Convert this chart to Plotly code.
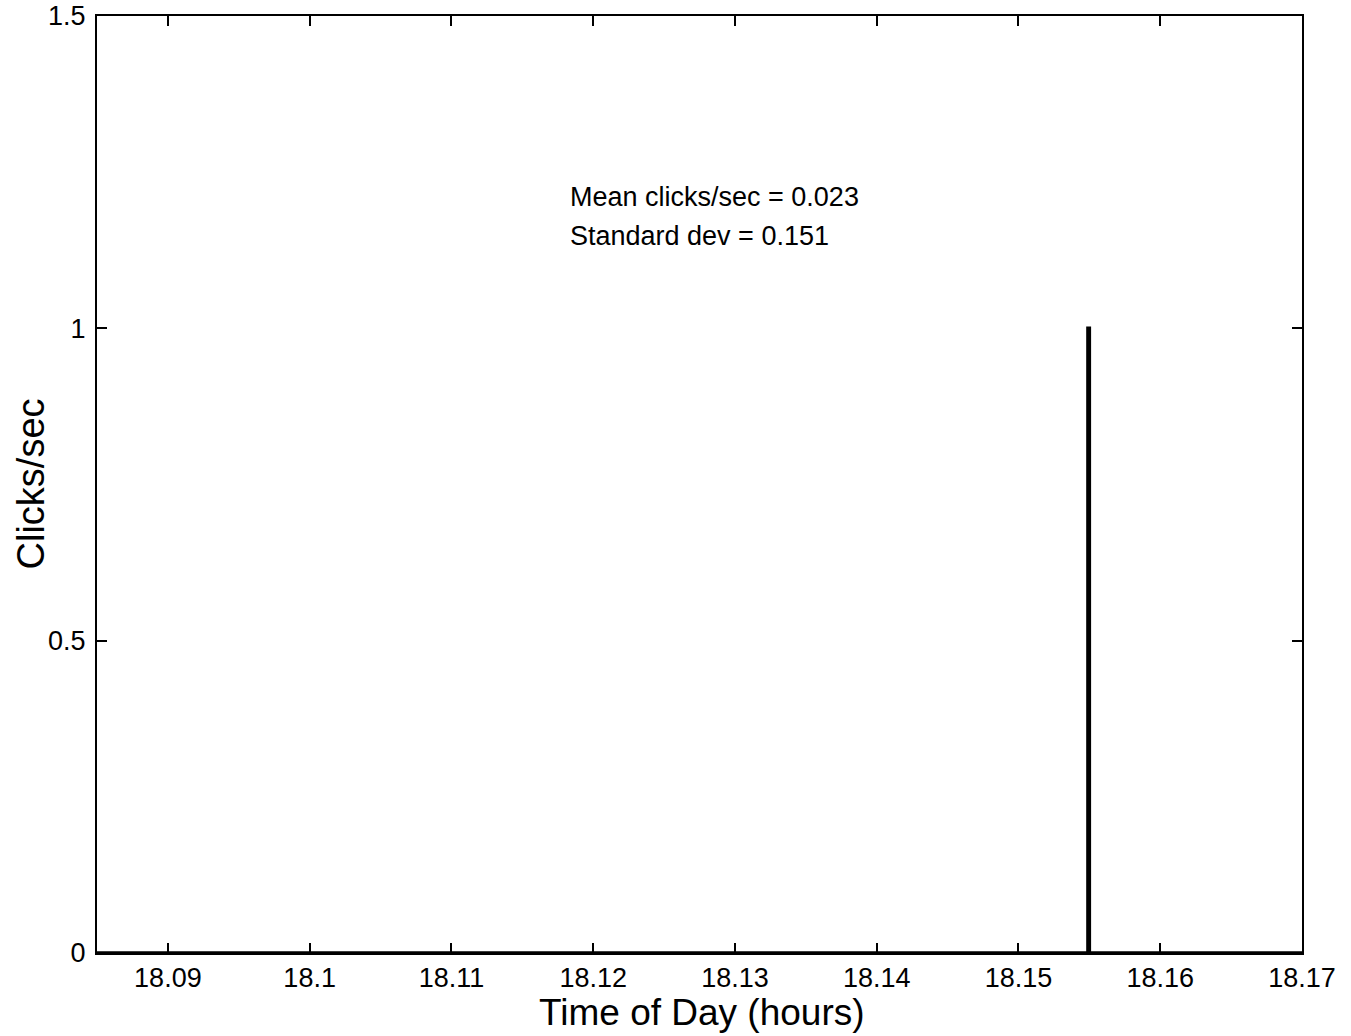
import plotly.graph_objects as go

# Data
time_hours = [18.0850, 18.1549, 18.1549, 18.1550, 18.1550, 18.1700]
clicks_per_sec = [0, 0, 1, 1, 0, 0]

x_tick_vals = [18.09, 18.10, 18.11, 18.12, 18.13, 18.14, 18.15, 18.16, 18.17]
x_tick_text = ["18.09", "18.1", "18.11", "18.12", "18.13", "18.14", "18.15", "18.16", "18.17"]
y_tick_vals = [0, 0.5, 1, 1.5]
y_tick_text = ["0", "0.5", "1", "1.5"]

stats_lines = ["Mean clicks/sec = 0.023", "Standard dev = 0.151"]
x_title = "Time of Day (hours)"
y_title = "Clicks/sec"

font_family = "Liberation Sans, Arial, Helvetica, sans-serif"

fig = go.Figure()
fig.add_trace(go.Scatter(
    x=time_hours, y=clicks_per_sec, mode="lines",
    line=dict(color="black", width=3.5), showlegend=False, hoverinfo="skip"))

fig.add_annotation(x=18.1182, y=1.21, xref="x", yref="y", text=stats_lines[0],
                   showarrow=False, xanchor="left", yanchor="middle",
                   font=dict(family=font_family, size=27, color="black"))
fig.add_annotation(x=18.1182, y=1.148, xref="x", yref="y", text=stats_lines[1],
                   showarrow=False, xanchor="left", yanchor="middle",
                   font=dict(family=font_family, size=27, color="black"))

# Axis titles placed as paper annotations for precise positioning
fig.add_annotation(x=0.502, y=-0.064, xref="paper", yref="paper", text=x_title,
                   showarrow=False, xanchor="center", yanchor="middle",
                   font=dict(family=font_family, size=37, color="black"))
fig.add_annotation(x=-0.0556, y=0.5, xref="paper", yref="paper", text=y_title,
                   showarrow=False, xanchor="center", yanchor="middle", textangle=-90,
                   font=dict(family=font_family, size=38, color="black"))

axis_common = dict(showgrid=False, zeroline=False, showline=True, linecolor="black",
                   linewidth=2, mirror="ticks", ticks="inside", ticklen=10,
                   tickwidth=1.5, tickcolor="black", automargin=False,
                   ticklabeloverflow="allow",
                   tickfont=dict(family=font_family, size=27, color="black"))

fig.update_xaxes(range=[18.085, 18.17], tickvals=x_tick_vals, ticktext=x_tick_text,
                 **axis_common)
fig.update_yaxes(range=[0, 1.5], tickvals=y_tick_vals, ticktext=y_tick_text,
                 ticklabelstandoff=4, **axis_common)

fig.update_layout(width=1351, height=1036, plot_bgcolor="white", paper_bgcolor="white",
                  margin=dict(l=97, r=49, t=16, b=83), showlegend=False)

fig.write_html("out.html", config={"displayModeBar": False},
               post_script="document.body.style.margin='0';")
